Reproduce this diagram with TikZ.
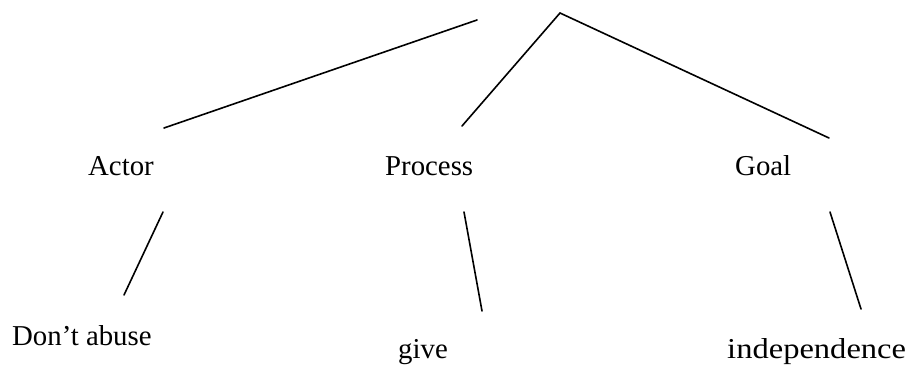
\documentclass[tikz,border=0pt]{standalone}
\usepackage{graphicx}
\usepackage{fontspec}
\setmainfont{Liberation Serif}
\begin{document}
\begin{tikzpicture}[x=1pt,y=-1pt,
  lbl/.style={anchor=base west,inner sep=0pt,font=\fontsize{28.8}{34}\selectfont},
  branch/.style={line width=1.6pt,line cap=round}]
\useasboundingbox (0,0) rectangle (912,372);
% labels
\node[lbl] (actor) at (88,175) {Actor};
\node[lbl] (process) at (385,175) {Process};
\node[lbl] (goal) at (735,175) {Goal};
\node[lbl] (abuse) at (12,345) {Don’t abuse};
\node[lbl] (give) at (398,358) {give};
\node[lbl] (indep) at (727,358) {\scalebox{1.13}[1]{independence}};
% branch end points
\coordinate (ltop) at (477,20);
\coordinate (lend) at (164,128);
\coordinate (apex) at (560,13);
\coordinate (pend) at (462,126);
\coordinate (gend) at (829,138);
\coordinate (a1) at (163,212);
\coordinate (a2) at (124,295);
\coordinate (p1) at (464,212);
\coordinate (p2) at (482,311);
\coordinate (g1) at (830,212);
\coordinate (g2) at (861,309);
% upper branches
\draw[branch] (lend) -- (ltop);
\draw[branch] (pend) -- (apex) -- (gend);
% lower branches
\draw[branch] (a1) -- (a2);
\draw[branch] (p1) -- (p2);
\draw[branch] (g1) -- (g2);
\end{tikzpicture}
\end{document}
